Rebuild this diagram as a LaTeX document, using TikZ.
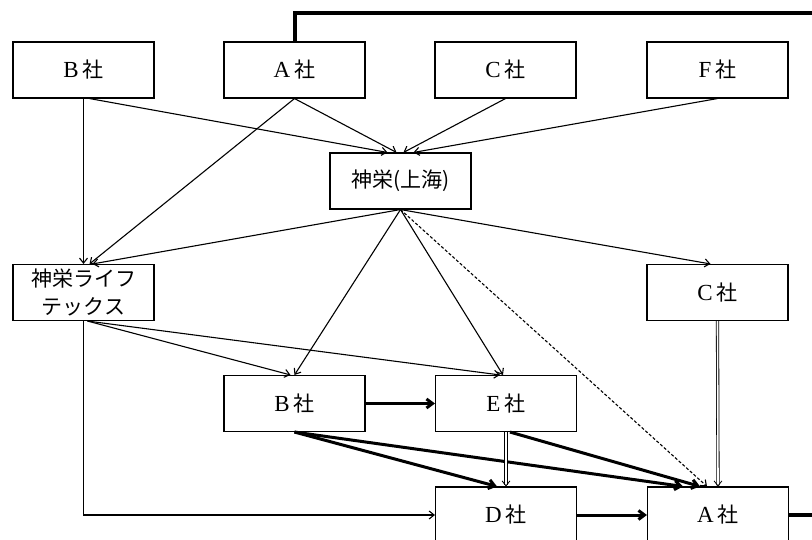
\documentclass[tikz,border=0pt]{standalone}
\usepackage{fontspec}
\setmainfont{Liberation Serif}
\newfontfamily\jp{Noto Sans CJK JP}
\usepackage{tikz}
\usetikzlibrary{arrows,arrows.meta}
\tikzstyle{firm}=[draw,line width=1.1pt,minimum width=141pt,minimum height=56pt,inner sep=0pt,align=center,font=\fontsize{21}{28}\selectfont]
\tikzstyle{edge} = [draw,line width=1.1pt,->,>={Straight Barb[length=5pt,width=8pt]}]
\newcommand{\sha}[1]{\fontsize{23}{28}\selectfont#1\hspace{4pt}{\jp\fontsize{21}{28}\selectfont 社}}

\begin{document}
\begin{tikzpicture}[x=1pt,y=-1pt]
      \tikzset{heavy/.style = {edge,line width=3pt,>={Straight Barb[length=6pt,width=9pt]}},
               twin/.style = {edge,double,double distance=1.6pt,line width=0.8pt}}
      \clip (0,0) rectangle (812,540);
      \node[firm] (b1) at (83.5,70) {\sha{B}};
      \node[firm] (a1) at (294.5,70) {\sha{A}};
      \node[firm] (c1) at (505.5,70) {\sha{C}};
      \node[firm] (f1) at (717.5,70) {\sha{F}};
      \node[firm] (sh) at (400.5,181) {\jp 神栄(上海)};
      \node[firm] (lt) at (83.5,292.5) {\jp 神栄ライフ\\\jp テックス};
      \node[firm] (c2) at (717.5,292.5) {\sha{C}};
      \node[firm] (b2) at (294.5,403.5) {\sha{B}};
      \node[firm] (e) at (506,403.5) {\sha{E}};
      \node[firm] (d) at (506,515) {\sha{D}};
      \node[firm] (a2) at (718,515) {\sha{A}};
      \coordinate (tr) at (840,13);
      % upper layer
      \draw[edge] (b1.south) to (lt.north);
      \draw[edge] ([xshift=6pt]b1.south) to ([xshift=-13pt]sh.north);
      \draw[edge] (a1.south) to ([xshift=6pt]lt.north);
      \draw[edge] (a1.south) to ([xshift=-4pt]sh.north);
      \draw[edge] (c1.south) to ([xshift=3pt]sh.north);
      \draw[edge] (f1.south) to ([xshift=13pt]sh.north);
      % from Shanghai
      \draw[edge] (sh.south) to ([xshift=9pt]lt.north);
      \draw[edge] (sh.south) to ([xshift=-7pt]c2.north);
      \draw[edge] (sh.south) to (b2.north);
      \draw[edge] (sh.south) to ([xshift=-3pt]e.north);
      \draw[edge,dash pattern=on 3pt off 2pt] (sh.south) to ([xshift=-11pt]a2.north);
      % from life techs
      \draw[edge] ([xshift=4pt]lt.south) to ([xshift=-4pt]b2.north);
      \draw[edge] ([xshift=4pt]lt.south) to ([xshift=-6pt]e.north);
      \draw[edge] (lt.south) |- (d.west);
      % lower layer
      \draw[heavy] (b2.east) to (e.west);
      \draw[heavy] (b2.south) to ([xshift=-9pt]d.north);
      \draw[heavy] (b2.south) to ([xshift=-35pt]a2.north);
      \draw[heavy] ([xshift=4pt]e.south) to ([xshift=-18pt]a2.north);
      \draw[twin] (e.south) to (d.north);
      \draw[twin] (c2.south) to (a2.north);
      \draw[heavy] (d.east) to (a2.west);
      \draw[line width=4pt] (a1.north) |- (tr) |- (a2.east);
    \end{tikzpicture}
\end{document}
